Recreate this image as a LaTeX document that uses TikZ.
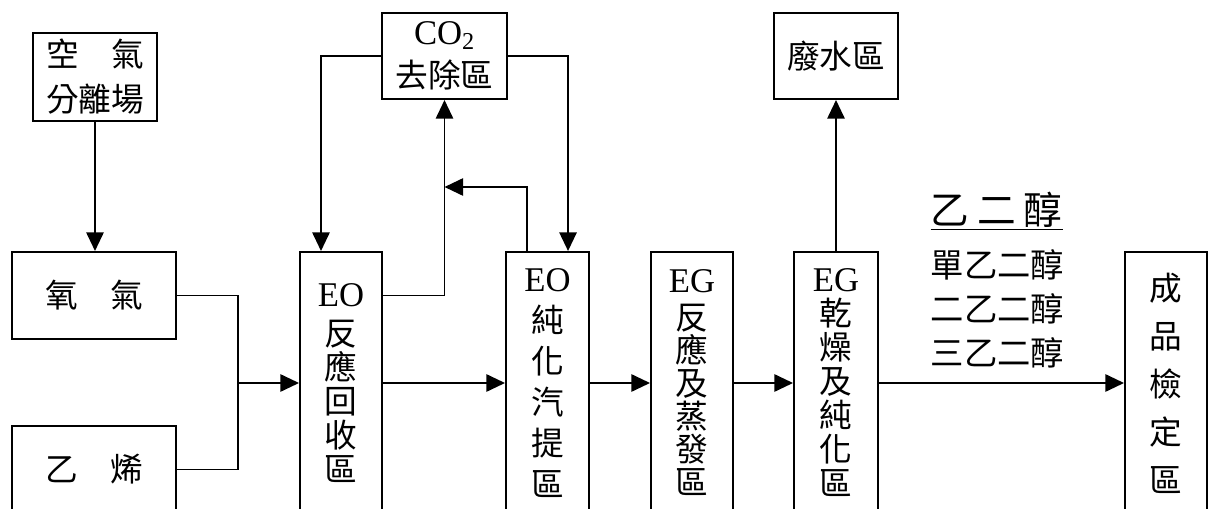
\documentclass[tikz,border=0pt]{standalone}
\usepackage{fontspec}
\setmainfont{Noto Sans CJK TC}
\newfontfamily\lat{Liberation Serif}
\usetikzlibrary{arrows.meta}

\begin{document}
\begin{tikzpicture}[x=0.75pt,y=0.75pt,yscale=-1,xscale=1,
  box/.style={draw,line width=1.5pt,inner sep=0pt,align=center,font=\fontsize{24.5}{#1}\selectfont},
  box/.default=25.5pt,
  arr/.style={line width=1.4pt,-{Triangle[length=14pt,width=13pt]}},
  lnk/.style={line width=1.4pt}]
\useasboundingbox (0,0) rectangle (1209,509);
\clip (0,0) rectangle (1209,509);

% Feed boxes
\node[box=33.75pt,minimum width=93pt,minimum height=66pt] (air) at (95,77) {空　氣\\分離場};
\node[box,minimum width=123pt,minimum height=65.25pt] (oxy) at (94,295.5) {氧　氣};
\node[box,minimum width=123pt,minimum height=65.25pt] (eth) at (94,469.5) {乙　烯};

% Upper boxes
\node[box=32pt,minimum width=93.75pt,minimum height=64.5pt] (co2) at (444.5,56) {{\lat\fontsize{26}{26}\selectfont CO\textsubscript{2}}\\去除區};
\node[box,minimum width=93pt,minimum height=64.5pt] (ww) at (836,56) {廢水區};

% Process columns
\node[box=25.5pt,minimum width=61.5pt,minimum height=196.5pt] (eor) at (341,383) {{\lat\fontsize{26}{26}\selectfont EO}\\[4pt]反\\應\\回\\收\\區};
\node[box=30.75pt,minimum width=62.25pt,minimum height=196.5pt] (eop) at (547.5,383) {{\lat\fontsize{26}{26}\selectfont EO}\\純\\化\\汽\\提\\區};
\node[box=24.75pt,minimum width=61.5pt,minimum height=196.5pt] (egr) at (692,383) {{\lat\fontsize{26}{26}\selectfont EG}\\[3pt]反\\應\\及\\蒸\\發\\區};
\node[box=25.5pt,minimum width=63pt,minimum height=196.5pt] (egd) at (836,383) {{\lat\fontsize{26}{26}\selectfont EG}\\乾\\燥\\及\\純\\化\\區};
\node[box=36pt,minimum width=61.5pt,minimum height=196.5pt] (qc) at (1166,383) {成\\品\\檢\\定\\區};

% Product labels
\node[inner sep=0pt,font=\fontsize{29}{29}\selectfont] (meg) at (996.5,211) {\underline{乙\hspace{6pt}二\hspace{6pt}醇}};
\node[inner sep=0pt,align=center,font=\fontsize{25}{33}\selectfont] (prod) at (997.5,309) {單乙二醇\\二乙二醇\\三乙二醇};

% Connectors
\coordinate (mix) at (238,383);
\coordinate (tee) at (444.5,187);
\draw[arr] (air.south) -- (air.south |- oxy.north);
\draw[lnk] (oxy.east) -| (mix) |- (eth.east);
\draw[arr] (mix) -- (eor.west);
\draw[arr] (co2.west) -| ([xshift=-15pt]eor.north);
\draw[arr] (co2.east) -| ([xshift=15.4pt]eop.north);
\draw[arr] (eor.east |- oxy.east) -| (co2.south);
\draw[arr] ([xshift=-15.4pt]eop.north) |- (tee);
\draw[arr] (eor.east) -- (eop.west);
\draw[arr] (eop.east) -- (egr.west);
\draw[arr] (egr.east) -- (egd.west);
\draw[arr] (egd.east) -- (qc.west);
\draw[arr] (egd.north) -- (ww.south);

\end{tikzpicture}
\end{document}
